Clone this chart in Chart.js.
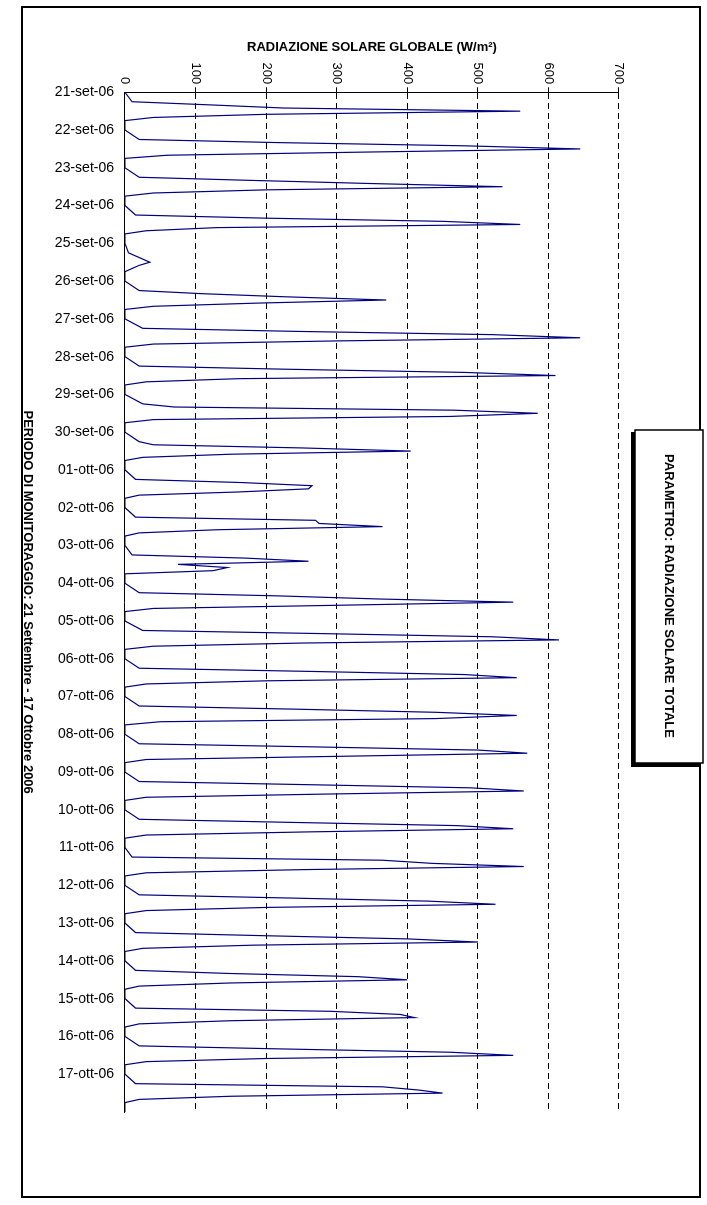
<!DOCTYPE html>
<html>
<head>
<meta charset="utf-8">
<script src="https://cdn.jsdelivr.net/npm/chart.js@4"></script>
<style>
  html, body { margin: 0; padding: 0; background: #fff; overflow: hidden; }
  #wrap {
    position: absolute; left: 0; top: 0; width: 1205px; height: 707px;
    transform-origin: 0 0; transform: translate(707px, 0) rotate(90deg);
  }
</style>
</head>
<body>
<div id="wrap"><canvas id="chart" width="1205" height="707"></canvas></div>
<script>
// day labels (one per day, start of day)
const dayLabels = ["21-set-06", "22-set-06", "23-set-06", "24-set-06", "25-set-06", "26-set-06",
  "27-set-06", "28-set-06", "29-set-06", "30-set-06", "01-ott-06", "02-ott-06", "03-ott-06",
  "04-ott-06", "05-ott-06", "06-ott-06", "07-ott-06", "08-ott-06", "09-ott-06", "10-ott-06",
  "11-ott-06", "12-ott-06", "13-ott-06", "14-ott-06", "15-ott-06", "16-ott-06", "17-ott-06"];

// sample hours within each day
const sampleHours = [0, 6, 8, 10, 12, 14, 16, 18];

// radiation values (W/m2), one row per day, at sampleHours
const radiation = [
  [0, 10, 120, 225, 560, 200, 40, 0],
  [0, 20, 220, 480, 645, 340, 60, 0],
  [0, 20, 180, 350, 535, 200, 40, 0],
  [0, 15, 200, 450, 560, 130, 30, 0],
  [0, 5, 15, 25, 35, 20, 10, 0],
  [0, 20, 110, 230, 370, 185, 40, 0],
  [0, 25, 250, 520, 645, 300, 40, 0],
  [0, 20, 230, 480, 610, 160, 30, 0],
  [0, 25, 70, 465, 585, 460, 40, 0],
  [0, 20, 40, 250, 405, 150, 25, 0],
  [0, 15, 165, 265, 260, 160, 20, 0],
  [0, 15, 270, 275, 365, 130, 20, 0],
  [0, 10, 170, 260, 75, 145, 125, 0],
  [0, 20, 215, 360, 550, 300, 40, 0],
  [0, 25, 280, 520, 615, 250, 40, 0],
  [0, 20, 260, 480, 555, 200, 30, 0],
  [0, 20, 240, 440, 555, 440, 50, 0],
  [0, 20, 270, 500, 570, 300, 30, 0],
  [0, 20, 260, 490, 565, 280, 30, 0],
  [0, 20, 240, 470, 550, 260, 30, 0],
  [0, 10, 365, 435, 565, 250, 30, 0],
  [0, 20, 230, 430, 525, 200, 30, 0],
  [0, 15, 200, 400, 500, 180, 25, 0],
  [0, 15, 150, 330, 400, 150, 20, 0],
  [0, 15, 290, 390, 410, 150, 20, 0],
  [0, 20, 230, 460, 550, 200, 30, 0],
  [0, 15, 365, 415, 450, 150, 20, 0]
];

const valueTicks = [0, 100, 200, 300, 400, 500, 600, 700];

const points = [];
radiation.forEach((day, d) => {
  day.forEach((v, i) => points.push({ x: d + sampleHours[i] / 24, y: v }));
});
points.push({ x: radiation.length, y: 0 });

const FONT = "Liberation Sans, Arial, sans-serif";

// frame + parameter box
const decor = {
  id: "decor",
  afterDraw(chart) {
    const c = chart.ctx;
    c.save();
    c.strokeStyle = "#000";
    c.lineWidth = 2;
    c.strokeRect(7, 7, 1190, 678);
    c.fillStyle = "#000";
    c.fillRect(432, 6, 335, 70);
    c.fillStyle = "#fff";
    c.fillRect(430, 4, 333, 68);
    c.lineWidth = 1.5;
    c.strokeRect(430, 4, 333, 68);
    c.fillStyle = "#000";
    c.font = "bold 13px " + FONT;
    c.textAlign = "center";
    c.textBaseline = "middle";
    c.fillText("PARAMETRO: RADIAZIONE SOLARE TOTALE", 596, 38);
    c.restore();
  }
};

new Chart(document.getElementById("chart"), {
  type: "line",
  data: {
    datasets: [{
      data: points,
      borderColor: "#000080",
      borderWidth: 1.2,
      pointRadius: 0,
      tension: 0,
      fill: false
    }]
  },
  plugins: [decor],
  options: {
    responsive: false,
    animation: false,
    events: [],
    layout: { padding: { left: 36, right: 93, top: 88, bottom: 20 } },
    plugins: { legend: { display: false }, tooltip: { enabled: false } },
    scales: {
      x: {
        type: "linear",
        min: 0,
        max: radiation.length,
        afterBuildTicks(axis) {
          axis.ticks = dayLabels.map((l, i) => ({ value: i }));
        },
        afterFit(axis) { axis.height = 105; },
        ticks: {
          callback: (v) => dayLabels[v] || "",
          minRotation: 90, maxRotation: 90, padding: 6,
          color: "#000", font: { family: FONT, size: 14 }
        },
        grid: { display: false, drawTicks: true, tickLength: 5 },
        border: { color: "#000", width: 1 },
        title: {
          display: true,
          text: "PERIODO DI MONITORAGGIO: 21 Settembre - 17 Ottobre 2006",
          color: "#000", font: { family: FONT, size: 13, weight: "bold" },
          padding: { top: 0, bottom: 0 }
        }
      },
      y: {
        min: 0, max: 700,
        afterBuildTicks(axis) {
          axis.ticks = valueTicks.map((v) => ({ value: v }));
        },
        ticks: { color: "#000", font: { family: FONT, size: 13 } },
        grid: {
          color: (ctx) => (ctx.tick && ctx.tick.value === 0 ? "rgba(0,0,0,0)" : "#000"),
          lineWidth: 1,
          drawTicks: true, tickLength: 5
        },
        border: { color: "#000", width: 1, dash: [6, 4] },
        title: {
          display: true,
          text: "RADIAZIONE SOLARE GLOBALE (W/m²)",
          color: "#000", font: { family: FONT, size: 13, weight: "bold" }
        }
      }
    }
  }
});
</script>
</body>
</html>
